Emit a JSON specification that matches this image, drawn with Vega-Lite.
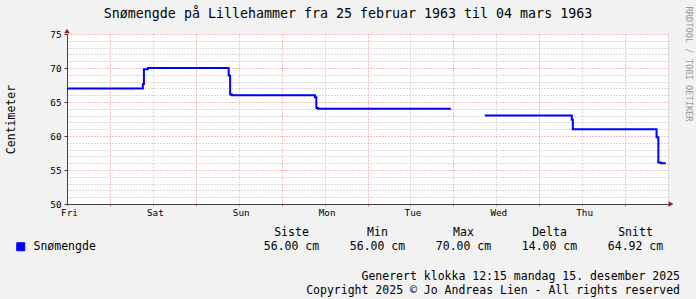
{
  "$schema": "https://vega.github.io/schema/vega-lite/v6.json",
  "background": "#f2f2f2",
  "padding": {"left": 5, "top": 5, "right": 4, "bottom": 5},
  "config": {"font": "DejaVu Sans Mono", "view": {"stroke": null}},
  "bounds": "flush",
  "spacing": 22,
  "vconcat": [
    {
      "width": 601,
      "height": 170,
      "view": {"fill": "white", "stroke": null},
      "title": {
        "text": "Snømengde på Lillehammer fra 25 februar 1963 til 04 mars 1963",
        "fontSize": 13.3, "fontWeight": "normal", "font": "DejaVu Sans Mono", "color": "#000000",
        "anchor": "middle", "frame": "group", "dx": -19.5, "offset": -14
      },
      "resolve": {"axis": {"y": "independent"}},
      "layer": [
        {
          "data": {"values": [
            {"h": 0, "v": 67},
            {"h": 21.2, "v": 67.6},
            {"h": 21.5, "v": 69.8},
            {"h": 22.6, "v": 70},
            {"h": 45.2, "v": 68.9},
            {"h": 45.6, "v": 66.1},
            {"h": 46.1, "v": 66},
            {"h": 69.3, "v": 65.7},
            {"h": 69.7, "v": 64.1},
            {"h": 70.2, "v": 64},
            {"h": 107.3, "v": 64},
            {"h": 107.4, "v": null},
            {"h": 116.8, "v": 63},
            {"h": 141.1, "v": 62.4},
            {"h": 141.4, "v": 61},
            {"h": 164.8, "v": 59.8},
            {"h": 165.3, "v": 56.1},
            {"h": 166, "v": 56},
            {"h": 167.4, "v": 56}
          ]},
          "mark": {"type": "line", "interpolate": "step-after", "strokeWidth": 2, "invalid": "break-paths-show-domains"},
          "encoding": {
            "x": {
              "field": "h", "type": "quantitative",
              "scale": {"domain": [0, 168], "nice": false, "zero": false},
              "axis": {
                "title": null,
                "values": [0, 6, 12, 18, 24, 30, 36, 42, 48, 54, 60, 66, 72, 78, 84, 90, 96, 102, 108, 114, 120, 126, 132, 138, 144, 150, 156, 162, 168],
                "labelExpr": "datum.value % 24 === 0 && datum.value < 168 ? ['Fri','Sat','Sun','Mon','Tue','Wed','Thu'][datum.value / 24] : ''",
                "labelOverlap": false, "labelFlush": false, "labelOffset": 2, "labelPadding": 2,
                "labelFontSize": 9.3, "labelColor": "#000000", "labelFont": "DejaVu Sans Mono",
                "grid": true, "gridDash": [1, 2],
                "gridColor": {"condition": {"test": "datum.value % 24 === 12", "value": "#e88080"}, "value": "#b4b4b4"},
                "tickColor": {"condition": {"test": "datum.value % 24 === 12", "value": "#e07070"}, "value": "#b0b0b0"},
                "tickSize": 2,
                "domainColor": "#404040"
              }
            },
            "y": {
              "field": "v", "type": "quantitative",
              "scale": {"domain": [50, 75], "nice": false, "zero": false},
              "axis": {
                "title": "Centimeter", "titleFontSize": 11.5, "titleFontWeight": "normal", "titleColor": "#000000",
                "titleFont": "DejaVu Sans Mono", "titleX": -56, "titleBaseline": "middle",
                "values": [50, 51, 52, 53, 54, 55, 56, 57, 58, 59, 60, 61, 62, 63, 64, 65, 66, 67, 68, 69, 70, 71, 72, 73, 74, 75],
                "labelExpr": "datum.value % 5 === 0 ? datum.label : ''",
                "labelOverlap": false, "labelFontSize": 9.3, "labelColor": "#000000", "labelFont": "DejaVu Sans Mono", "labelPadding": 3,
                "grid": true, "gridDash": [1, 2],
                "gridColor": {"condition": {"test": "datum.value % 5 === 0", "value": "#e88080"}, "value": "#b4b4b4"},
                "tickOpacity": {"condition": {"test": "datum.value % 5 === 0", "value": 1}, "value": 0},
                "tickColor": "#404040", "tickSize": 3,
                "domainColor": "#404040"
              }
            },
            "color": {
              "datum": "Snømengde",
              "scale": {"range": ["#0000ff"]},
              "legend": {
                "orient": "none", "legendX": -52, "legendY": 207, "title": null,
                "symbolType": "square", "symbolSize": 64, "symbolStrokeWidth": 1,
                "labelFontSize": 11.5, "labelColor": "#000000", "labelFont": "DejaVu Sans Mono", "labelOffset": 7,
                "padding": 0,
                "encode": {"symbols": {"update": {"fill": {"value": "#0000ff"}, "stroke": {"value": "#000000"}, "opacity": {"value": 1}}}}
              }
            }
          }
        },
        {
          "data": {"values": [{}]},
          "mark": {"type": "point", "shape": "triangle-right", "filled": true, "color": "#9a1a1a", "size": 30, "opacity": 1, "xOffset": 3},
          "encoding": {
            "x": {"datum": 168, "type": "quantitative"},
            "y": {
              "datum": 50, "type": "quantitative",
              "axis": {
                "orient": "right", "labels": false, "ticks": false, "domain": false, "grid": false,
                "title": "RRDTOOL / TOBI OETIKER", "titleAngle": 90, "titleColor": "#9a9a9a", "titleFontSize": 8.7,
                "titleFontWeight": "normal", "titleFont": "DejaVu Sans Mono",
                "titleX": 20, "titleY": -28, "titleAlign": "left", "titleBaseline": "middle"
              }
            }
          }
        },
        {
          "data": {"values": [{}]},
          "mark": {"type": "point", "shape": "triangle-up", "filled": true, "color": "#9a1a1a", "size": 30, "opacity": 1, "yOffset": -3},
          "encoding": {
            "x": {"datum": 0, "type": "quantitative"},
            "y": {"datum": 75, "type": "quantitative", "axis": null}
          }
        }
      ]
    },
    {
      "width": 613,
      "height": 28,
      "data": {"values": [
        {"row": "head", "col": "Siste", "label": "Siste"},
        {"row": "head", "col": "Min", "label": "Min"},
        {"row": "head", "col": "Max", "label": "Max"},
        {"row": "head", "col": "Delta", "label": "Delta"},
        {"row": "head", "col": "Snitt", "label": "Snitt"},
        {"row": "val", "col": "Siste", "label": "56.00 cm"},
        {"row": "val", "col": "Min", "label": "56.00 cm"},
        {"row": "val", "col": "Max", "label": "70.00 cm"},
        {"row": "val", "col": "Delta", "label": "14.00 cm"},
        {"row": "val", "col": "Snitt", "label": "64.92 cm"}
      ]},
      "mark": {"type": "text", "fontSize": 11.5, "font": "DejaVu Sans Mono", "color": "#000000", "baseline": "middle", "align": "center"},
      "encoding": {
        "x": {"field": "col", "type": "nominal", "scale": {"type": "point", "domain": ["Siste", "Min", "Max", "Delta", "Snitt"], "range": [224.5, 568.5], "padding": 0}, "axis": null},
        "y": {"field": "row", "type": "nominal", "scale": {"type": "band", "domain": ["head", "val"], "paddingInner": 0, "paddingOuter": 0}, "axis": null},
        "text": {"field": "label"}
      },
      "title": {
        "text": ["Generert klokka 12:15 mandag 15. desember 2025", "Copyright 2025 © Jo Andreas Lien - All rights reserved"],
        "orient": "bottom", "anchor": "end", "frame": "group", "offset": 16.5,
        "fontSize": 11.5, "fontWeight": "normal", "font": "DejaVu Sans Mono", "color": "#000000", "lineHeight": 14
      }
    }
  ]
}
